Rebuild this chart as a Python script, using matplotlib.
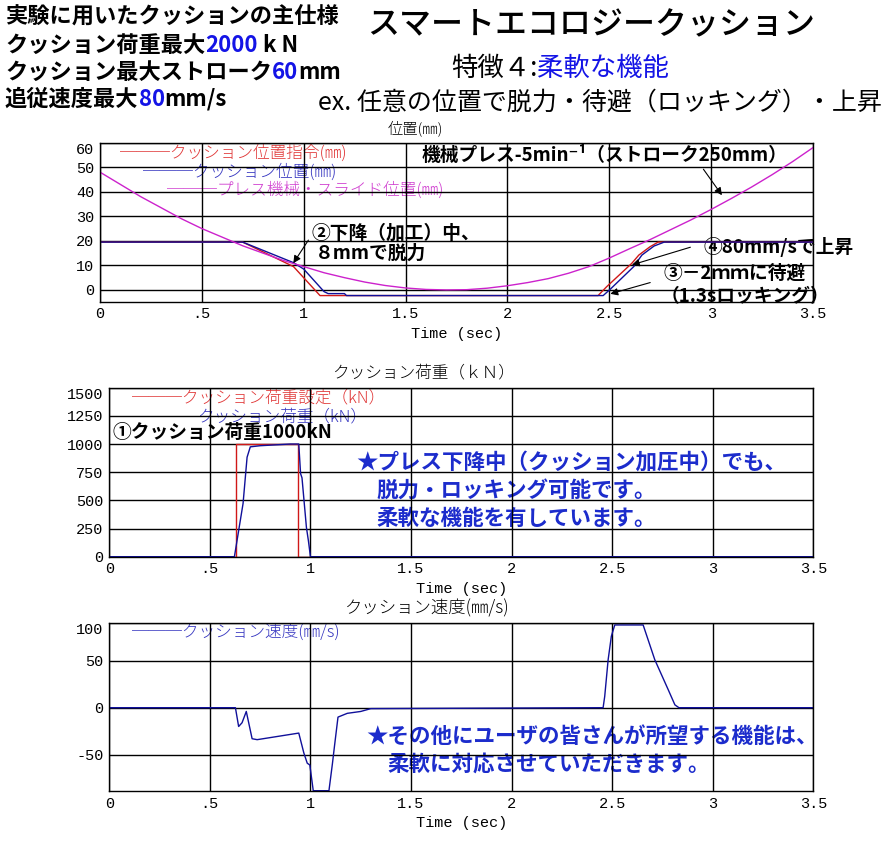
import matplotlib
matplotlib.use('Agg')
import matplotlib.pyplot as plt

plt.rcParams['font.family'] = ['Noto Sans CJK JP', 'DejaVu Sans']

W, H = 886, 842

# --- panel 1: position (mm)
t_cmd = [0, 0.70, 0.95, 1.08, 2.445, 2.487, 2.61, 2.645, 2.70, 2.74, 3.5]
pos_cmd = [19.5, 19.5, 9.5, -2.3, -2.3, 1.3, 10.8, 14.2, 17.6, 19.5, 19.5]
t_pos = [0, 0.70, 0.95, 1.0, 1.10, 1.12, 1.20, 1.21, 2.47, 2.505, 2.62, 2.66, 2.72, 2.77, 3.5]
pos = [19.5, 19.5, 11.1, 8.5, -0.7, -1.5, -1.5, -2.3, -2.3, 0.3, 9.5, 14.2, 17.9, 19.5, 19.5]
t_press = [0, 0.1, 0.2, 0.3, 0.4, 0.5, 0.6, 0.7, 0.8, 0.9, 1.0, 1.1, 1.2, 1.3, 1.4, 1.5, 1.6, 1.7,
           1.8, 1.9, 2.0, 2.1, 2.2, 2.3, 2.4, 2.5, 2.6, 2.7, 2.8, 2.9, 3.0, 3.1, 3.2, 3.3, 3.4, 3.5]
press = [48, 43, 38, 33.5, 29, 25, 21.5, 18, 15, 12, 9.5, 7, 5, 3.2, 1.8, 0.8, 0.2, 0,
         0.1, 0.7, 1.7, 3, 4.6, 6.8, 9.5, 13, 16.8, 20.5, 24.5, 28.5, 32.8, 37.3, 42, 47, 52.3, 58]

# --- panel 2: cushion load (kN)
t_set = [0, 0.63, 0.63, 0.937, 0.937, 3.5]
load_set = [0, 0, 1000, 1000, 0, 0]
t_load = [0, 0.622, 0.665, 0.685, 0.701, 0.75, 0.8, 0.85, 0.9, 0.942, 0.951, 0.958, 0.98, 0.99, 1.0, 3.5]
load = [0, 0, 472, 883, 975, 985, 990, 995, 1000, 1000, 737, 700, 260, 140, 0, 0]

# --- panel 3: cushion speed (mm/s)
t_vel = [0, 0.627, 0.643, 0.660, 0.681, 0.710, 0.735, 0.942, 0.967, 0.984, 0.997, 1.014, 1.092,
         1.109, 1.12, 1.137, 1.183, 1.25, 1.30, 2.455, 2.463, 2.48, 2.496, 2.513, 2.654, 2.712,
         2.779, 2.812, 2.832, 3.5]
vel = [0, 0, -20, -16, -4, -33, -34, -27, -48, -59, -61, -88.3, -88.3,
       -60, -40, -10, -6, -4, -1, 0, 12, 51, 76, 88, 88, 51,
       19, 3, 0, 0]

xticks = [0, 0.5, 1, 1.5, 2, 2.5, 3, 3.5]
xlabels = ['0', '.5', '1', '1.5', '2', '2.5', '3', '3.5']

RED, BLUE, MAG = '#d01818', '#10109a', '#cc22cc'
TXTBLUE = '#1c2ccc'

fig = plt.figure(figsize=(8.86, 8.42), dpi=100)
ax1 = fig.add_axes([100 / W, 1 - 301.7 / H, 713 / W, 159 / H])
ax2 = fig.add_axes([109.3 / W, 1 - 556.7 / H, 704 / W, 169 / H])
ax3 = fig.add_axes([109.3 / W, 1 - 791 / H, 704 / W, 168.3 / H])


def style(ax, ylim, yticks, ylabels):
    ax.set_xlim(0, 3.5)
    ax.set_ylim(*ylim)
    ax.set_xticks(xticks)
    ax.set_xticklabels(xlabels)
    ax.set_yticks(yticks)
    ax.set_yticklabels(ylabels)
    ax.grid(True, color='black', lw=1)
    ax.tick_params(length=0, pad=4, labelsize=11)
    for lab in ax.get_xticklabels() + ax.get_yticklabels():
        lab.set_family('Liberation Mono')
    ax.get_yticklabels()[-1].set_va('top')
    for s in ax.spines.values():
        s.set_color('black')
        s.set_linewidth(1)
    ax.set_xlabel('Time (sec)', family='Liberation Mono', fontsize=11, labelpad=4)


style(ax1, (-4.8, 60), [0, 10, 20, 30, 40, 50, 60], ['0', '10', '20', '30', '40', '50', '60'])
style(ax2, (0, 1500), [0, 250, 500, 750, 1000, 1250, 1500],
      ['0', '250', '500', '750', '1000', '1250', '1500'])
style(ax3, (-88.6, 90.4), [-50, 0, 50, 90.4], ['-50', '0', '50', '100'])

ax1.plot(t_cmd, pos_cmd, color=RED, lw=1)
ax1.plot(t_pos, pos, color=BLUE, lw=1)
ax1.plot(t_press, press, color=MAG, lw=1)
ax2.plot(t_set, load_set, color=RED, lw=1)
ax2.plot(t_load, load, color=BLUE, lw=1)
ax3.plot(t_vel, vel, color=BLUE, lw=1)

# legends written as coloured text
leg = dict(fontsize=12, weight='light', va='center', zorder=1)
ax1.text(0.098, 55.8, '───クッション位置指令(㎜)', color='#e03535', **leg)
ax1.text(0.211, 48.1, '───クッション位置(㎜)', color='#3535c0', **leg)
ax1.text(0.328, 40.7, '───プレス機械・スライド位置(㎜)', color='#d040d0', **leg)
ax2.text(0.112, 1413, '───クッション荷重設定（kN）', color='#e03535', **leg)
ax2.text(0.436, 1243, 'クッション荷重（kN）', color='#3535c0', **leg)
ax3.text(0.112, 80.2, '───クッション速度(㎜/s)', color='#3535c0', **leg)

# panel titles
ttl = dict(weight='light', ha='center', va='center')
fig.text(415 / W, 1 - 128 / H, '位置(㎜)', fontsize=11, **ttl)
fig.text(424 / W, 1 - 373 / H, 'クッション荷重（ｋＮ）', fontsize=12, **ttl)
fig.text(427 / W, 1 - 608 / H, 'クッション速度(㎜/s)', fontsize=12.5, **ttl)

# annotations
ann = dict(fontsize=13.5, weight='bold', va='center', zorder=1)
arr = dict(arrowstyle='-|>', color='black', lw=0.8, mutation_scale=11, shrinkA=0, shrinkB=0)
ax1.text(1.58, 54.9, '機械プレス-5min⁻¹（ストローク250mm）', **ann)
ax1.annotate('', xy=(3.053, 38.6), xytext=(2.962, 49.2), arrowprops=arr)
ax1.text(1.036, 23.0, '②下降（加工）中、', **ann)
ax1.text(1.056, 14.9, '８mmで脱力', **ann)
ax1.annotate('', xy=(0.949, 10.9), xytext=(1.023, 20.3), arrowprops=arr)
ax1.text(2.963, 17.6, '④80mm/sで上昇', **ann)
ax1.annotate('', xy=(2.611, 10.2), xytext=(2.898, 17.4), arrowprops=arr)
ax1.text(2.767, 6.8, '③－2ｍｍに待避', **ann)
ax1.annotate('', xy=(2.505, -1.6), xytext=(2.701, 3.0), arrowprops=arr)
ax1.text(2.75, -2.7, '（1.3sロッキング）', **ann)

ax2.text(0.018, 1104, '①クッション荷重1000kN', **ann)

big = dict(fontsize=15.5, weight='bold', va='center', color=TXTBLUE, zorder=1)
ax2.text(1.225, 839, '★プレス下降中（クッション加圧中）でも、', **big)
ax2.text(1.330, 589, '脱力・ロッキング可能です。', **big)
ax2.text(1.330, 339, '柔軟な機能を有しています。', **big)
ax3.text(1.275, -30.9, '★その他にユーザの皆さんが所望する機能は、', **big)
ax3.text(1.383, -59.9, '柔軟に対応させていただきます。', **big)


def rich(px, py, parts, **kw):
    r = fig.canvas.get_renderer()
    x = px / W
    for s, c in parts:
        t = fig.text(x, 1 - py / H, s, color=c, va='center_baseline', **kw)
        x += t.get_window_extent(r).width / fig.bbox.width


K, B = 'black', '#1414e6'
hdr = dict(fontsize=16, weight='bold')
rich(5, 15, [('実験に用いたクッションの主仕様', K)], **hdr)
rich(5, 43, [('クッション荷重最大', K), ('2000', B), (' k N', K)], **hdr)
rich(5, 70, [('クッション最大ストローク', K), ('60', B), ('mm', K)], **hdr)
rich(5, 97, [('追従速度最大', K), ('80', B), ('mm/s', K)], **hdr)

fig.text(591 / W, 1 - 25 / H, 'スマートエコロジークッション', fontsize=23, weight='medium',
         ha='center', va='center')
rich(451, 65, [('特徴４:', K), ('柔軟な機能', B)], fontsize=19)
rich(318, 100, [('ex. 任意の位置で脱力・待避（ロッキング）・上昇', K)], fontsize=18)

fig.savefig('out.png', dpi=100)
